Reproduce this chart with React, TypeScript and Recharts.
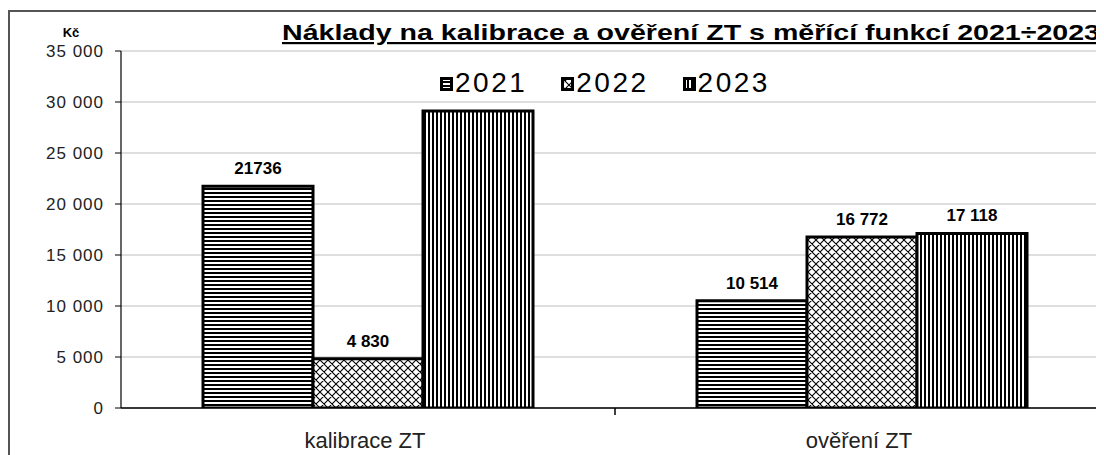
import { BarChart, Bar, XAxis, YAxis, CartesianGrid, Legend, LabelList } from "recharts";

const categories = ["kalibrace ZT", "ověření ZT"];
const years = ["2021", "2022", "2023"];
const values2021 = [21736, 10514];
const values2022 = [4830, 16772];
const values2023 = [29118, 17118];
// the 2023 label of the first group is hidden behind the legend in the original
const labels2021 = ["21736", "10 514"];
const labels2022 = ["4 830", "16 772"];
const labels2023 = ["", "17 118"];
const yTicks = [0, 5000, 10000, 15000, 20000, 25000, 30000, 35000];

const patternIds = ["pat-h", "pat-x", "pat-v"];
const FONT = "Arial, 'Liberation Sans', sans-serif";

const data = categories.map((cat, i) => ({
  cat,
  y2021: values2021[i],
  y2022: values2022[i],
  y2023: values2023[i],
  l2021: labels2021[i],
  l2022: labels2022[i],
  l2023: labels2023[i],
}));

const fmt = (v: number) => v.toLocaleString("en-US").replace(/,/g, " ");

function CatTick({ x, y, payload, index }: any) {
  return (
    <g>
      {index === 0 && <line x1={x + 247} x2={x + 247} y1={y - 8} y2={y - 1} stroke="#000" strokeWidth={1.5} />}
      <text x={x - 3} y={y + 32} textAnchor="middle" fontSize={22} fill="#222" fontFamily={FONT}>
        {payload.value}
      </text>
    </g>
  );
}

function YearLegend() {
  return (
    <div style={{ display: "flex", fontFamily: FONT, fontSize: 28, letterSpacing: 2.5, color: "#000", lineHeight: "28px" }}>
      {years.map((y, i) => (
        <div key={y} style={{ display: "flex", alignItems: "center", marginRight: i < 2 ? 34 : 0 }}>
          <svg width={13} height={14} style={{ marginRight: 2, marginTop: 1 }}>
            <rect x={1.5} y={1.5} width={10} height={11} fill={`url(#${patternIds[i]})`} stroke="#000" strokeWidth={3} />
          </svg>
          <span>{y}</span>
        </div>
      ))}
    </div>
  );
}

const labelProps = { position: "top" as const, offset: 12, fontSize: 17, fontWeight: "bold", fill: "#000", fontFamily: FONT };

export default function App() {
  return (
    <div style={{ position: "relative", width: 1096, height: 447, overflow: "hidden", background: "#fff" }}>
      <div style={{ position: "absolute", left: 0, top: 2, width: 1200, height: 500, borderLeft: "2px solid #555", borderTop: "2px solid #555" }} />
      <BarChart
        width={1107}
        height={447}
        data={data}
        margin={{ top: 43, right: 6, left: 0, bottom: 0 }}
        barCategoryGap="16.6%"
        barGap={0}
        style={{ position: "absolute", left: 0, top: 0 }}
      >
        <defs>
          <pattern id="pat-h" patternUnits="userSpaceOnUse" width={4} height={4}>
            <rect width={4} height={4} fill="#fff" />
            <rect width={4} height={2} fill="#000" />
          </pattern>
          <pattern id="pat-v" patternUnits="userSpaceOnUse" width={4} height={4}>
            <rect width={4} height={4} fill="#fff" />
            <rect width={2} height={4} fill="#000" />
          </pattern>
          <pattern id="pat-x" patternUnits="userSpaceOnUse" width={8} height={8}>
            <rect width={8} height={8} fill="#fff" />
            <path d="M0,0 L8,8 M8,0 L0,8 M-1,7 L1,9 M7,-1 L9,1 M-1,1 L1,-1 M7,9 L9,7" stroke="#000" strokeWidth={1.1} />
          </pattern>
        </defs>
        <text x={274} y={32} fontSize={22} fontWeight="bold" textDecoration="underline" textLength={818} lengthAdjust="spacingAndGlyphs" fontFamily={FONT} fill="#000">
          Náklady na kalibrace a ověření ZT s měřící funkcí 2021÷2023
        </text>
        <text x={63} y={29} fontSize={13} fontWeight="bold" textAnchor="middle" fontFamily={FONT} fill="#000">
          Kč
        </text>
        <CartesianGrid vertical={false} stroke="#bdbdbd" strokeWidth={1.2} />
        <XAxis
          dataKey="cat"
          height={47}
          axisLine={{ stroke: "#000", strokeWidth: 1.5 }}
          tickLine={false}
          tick={<CatTick />}
          interval={0}
        />
        <YAxis
          width={113}
          domain={[0, 35000]}
          ticks={yTicks}
          tickFormatter={fmt}
          axisLine={{ stroke: "#000", strokeWidth: 1.2 }}
          tickLine={{ stroke: "#000" }}
          tickSize={6}
          tickMargin={11}
          tick={{ fontSize: 17, fill: "#222", fontFamily: FONT, letterSpacing: 1 }}
          allowDataOverflow
        />
        <Bar dataKey="y2021" fill="url(#pat-h)" stroke="#000" strokeWidth={3} isAnimationActive={false}>
          <LabelList dataKey="l2021" {...labelProps} />
        </Bar>
        <Bar dataKey="y2022" fill="url(#pat-x)" stroke="#000" strokeWidth={3} isAnimationActive={false}>
          <LabelList dataKey="l2022" {...labelProps} />
        </Bar>
        <Bar dataKey="y2023" fill="url(#pat-v)" stroke="#000" strokeWidth={3} isAnimationActive={false}>
          <LabelList dataKey="l2023" {...labelProps} />
        </Bar>
        <Legend
          layout="horizontal"
          verticalAlign="middle"
          content={<YearLegend />}
          wrapperStyle={{ left: 432, top: 61, width: "auto" }}
        />
      </BarChart>
    </div>
  );
}
